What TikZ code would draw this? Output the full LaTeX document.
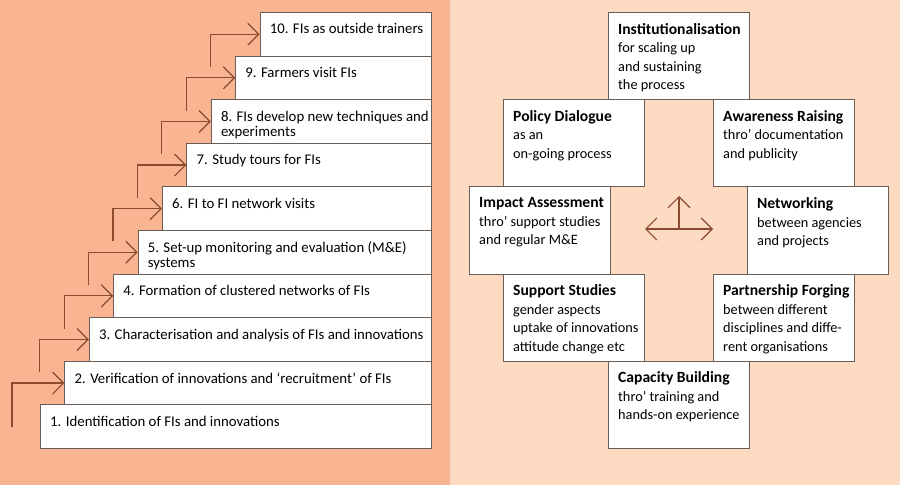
\documentclass[tikz,border=0pt]{standalone}
\usepackage{fontspec}
\setmainfont{Carlito}
\usetikzlibrary{arrows.meta}

\definecolor{leftbg}{HTML}{F9B591}
\definecolor{rightbg}{HTML}{FDDBC3}
\definecolor{arrowbrown}{HTML}{8A4B2F}
\definecolor{boxline}{HTML}{6A5D55}

\newcommand\areahead[1]{{\fontsize{15.6}{18.5}\selectfont\bfseries #1}}

\tikzset{
	stepbox/.style={draw=boxline, fill=white, line width=0.9pt, anchor=north west, inner sep=0pt, minimum height=43.6pt},
	steplabel/.style={anchor=north west, inner sep=0pt, align=left, font=\fontsize{14.8}{15}\selectfont},
	steparrow/.style={draw=arrowbrown, line width=1.2pt, -{Straight Barb[length=11pt,width=22pt]}},
	areabox/.style={draw=boxline, fill=white, line width=0.9pt, anchor=north west, inner sep=0pt, minimum width=141pt, minimum height=87.2pt},
	arealabel/.style={anchor=north west, inner sep=0pt, align=left, font=\fontsize{14.3}{18.5}\selectfont},
}

\begin{document}
\begin{tikzpicture}[x=1pt, y=-1pt]
	\fill[leftbg] (0, 0) rectangle (450, 485);
	\fill[rightbg] (450, 0) rectangle (900, 485);
	\useasboundingbox (0, 0) rectangle (900, 485);

	% staircase of steps
	\foreach \k/\txt in {
		1/{1. Identification of FIs and innovations},
		2/{2. Verification of innovations and ‘recruitment’ of FIs},
		3/{3. Characterisation and analysis of FIs and innovations},
		4/{4. Formation of clustered networks of FIs},
		5/{5. Set-up monitoring and evaluation (M\&E)\\systems},
		6/{6. FI to FI network visits},
		7/{7. Study tours for FIs},
		8/{8. FIs develop new techniques and\\experiments},
		9/{9. Farmers visit FIs},
		10/{10. FIs as outside trainers}} {
		\pgfmathsetmacro\steplft{40 + (\k - 1) * 24.4}
		\pgfmathsetmacro\steptop{448 - \k * 43.6}
		\pgfmathsetmacro\stepwd{431 - \steplft}
		\node[stepbox, minimum width=\stepwd pt] (s\k) at (\steplft, \steptop) {};
		\node[steplabel] (t\k) at ([shift={(10, 11.5)}]s\k.north west) {\txt};
	}

	% arrows up the steps
	\coordinate (a2) at (12, 427);
	\foreach \k in {3, ..., 10} {
		\pgfmathsetmacro\ax{40 + (\k - 1) * 24.4 - 49}
		\pgfmathsetmacro\ay{448 - \k * 43.6 + 55}
		\coordinate (a\k) at (\ax, \ay);
	}
	\foreach \k in {2, ..., 10}
		\draw[steparrow] (a\k) |- (s\k.west);

	% pyramid of activity areas
	\foreach \nm/\bx/\by/\head/\body in {
		inst/608/12/Institutionalisation/{for scaling up\\and sustaining\\the process},
		policy/503/99.2/Policy Dialogue/{as an\\on-going process},
		aware/713/99.2/Awareness Raising/{thro’ documentation\\and publicity},
		impact/469/186.4/Impact Assessment/{thro’ support studies\\and regular M\&E},
		network/747/186.4/Networking/{between agencies\\and projects},
		support/503/273.6/Support Studies/{gender aspects\\uptake of innovations\\attitude change etc},
		partner/713/273.6/Partnership Forging/{between different\\disciplines and diffe-\\rent organisations},
		capacity/608/360.8/Capacity Building/{thro’ training and\\hands-on experience}} {
		\node[areabox] (\nm) at (\bx, \by) {};
		\node[arealabel] (\nm-t) at ([shift={(10, 11)}]\nm.north west) {\areahead{\head}\\\body};
	}

	% centre cross
	\coordinate (hub) at (679, 229);
	\coordinate (hubl) at (645, 229);
	\coordinate (hubr) at (713, 229);
	\coordinate (hubt) at (679, 196);
	\draw[steparrow, {Straight Barb[length=11pt,width=22pt]}-{Straight Barb[length=11pt,width=22pt]}] (hubl) -- (hubr);
	\draw[steparrow] (hub) -- (hubt);
\end{tikzpicture}
\end{document}
